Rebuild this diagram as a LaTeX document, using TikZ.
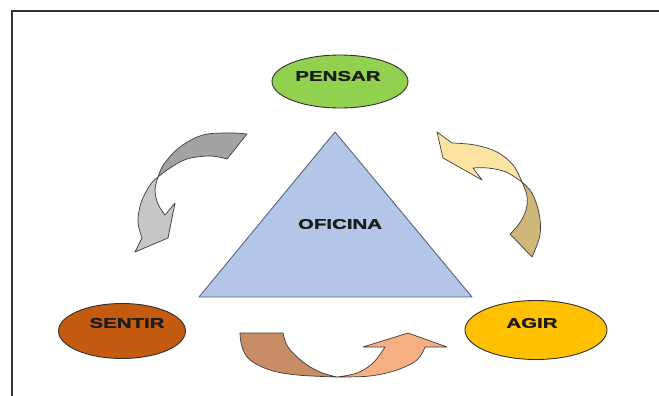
\documentclass[tikz,border=0pt]{standalone}
\usepackage{fontspec}
\setmainfont{Liberation Sans}
\newfontfamily\heavysans{Liberation Sans}[BoldFeatures={FakeBold=1.3}]
\usetikzlibrary{shapes.geometric}

\definecolor{frameline}{HTML}{333333}
\definecolor{pensarfill}{HTML}{92D050}
\definecolor{sentirfill}{HTML}{C55A11}
\definecolor{agirfill}{HTML}{FFC000}
\definecolor{trifill}{HTML}{B4C6E7}
\definecolor{triline}{HTML}{56637E}
\definecolor{greyback}{HTML}{A3A3A3}
\definecolor{greyfront}{HTML}{C6C6C6}
\definecolor{yellowfront}{HTML}{FDE3A0}
\definecolor{yellowback}{HTML}{CFB679}
\definecolor{orangeback}{HTML}{C98D66}
\definecolor{orangefront}{HTML}{F5AF82}
\definecolor{edge}{HTML}{3C3C3C}
\definecolor{label}{HTML}{1C1C1C}

\tikzset{
  oval/.style={ellipse, draw=edge!80!black, line width=0.9pt, inner sep=0pt},
  caption/.style={font=\heavysans\fontsize{14}{14}\selectfont\bfseries, text=label, inner sep=0pt},
  band/.style={draw=edge, line width=0.7pt, line join=round},
}
\newcommand{\wide}[1]{\scalebox{1.46}[1]{#1}}

\begin{document}
\begin{tikzpicture}[x=1pt, y=-1pt]
\useasboundingbox (0,0) rectangle (659,396);

% page frame (top and left edges)
\draw[frameline, line width=1.4pt] (12,396) -- (12,11) -- (659,11);

% central triangle
\coordinate (apex) at (335,132);
\coordinate (bl) at (199,297);
\coordinate (br) at (472,297);
\filldraw[fill=trifill, draw=triline, line width=0.9pt, line join=round] (apex) -- (br) -- (bl) -- cycle;
\node[caption] (oficina) at (340,224) {\wide{OFICINA}};

% three ovals
\node[oval, fill=pensarfill, minimum width=136pt, minimum height=53pt] (pensar) at (340,81.5) {};
\node[caption] (tpensar) at (338,76) {\wide{PENSAR}};
\node[oval, fill=sentirfill, minimum width=127pt, minimum height=55pt] (sentir) at (122,331) {};
\node[caption] (tsentir) at (127,323) {\wide{SENTIR}};
\node[oval, fill=agirfill, minimum width=142pt, minimum height=59pt] (agir) at (536,330) {};
\node[caption] (tagir) at (532,323) {\wide{AGIR}};

% left curved arrow (grey): back band, then front band with head
\filldraw[band, fill=greyback]
  plot[smooth, tension=0.6] coordinates {(247,134) (230,133) (203,135) (180,147) (164,164) (158,177)}
  -- plot[smooth, tension=0.6] coordinates {(158,177) (170,168) (187,159) (210,156) (227,159)}
  -- cycle;
\filldraw[band, fill=greyfront]
  plot[smooth, tension=0.6] coordinates {(158,177) (150,185) (141,203) (138,222) (142,238)}
  -- (135,252) -- (168,238) -- (175,203) -- (165,215)
  -- plot[smooth, tension=0.6] coordinates {(165,215) (158,204) (155,190) (158,177)}
  -- cycle;

% right curved arrow (yellow): back band, then front band with head
\filldraw[band, fill=yellowback]
  plot[smooth, tension=0.6] coordinates {(522,182) (532,193) (539,213) (540,235) (532,257)}
  -- (510,234)
  -- plot[smooth, tension=0.6] coordinates {(510,234) (519,224) (526,210) (527,196) (522,182)}
  -- cycle;
\filldraw[band, fill=yellowfront]
  (437,132) -- (452,143)
  -- plot[smooth, tension=0.6] coordinates {(452,143) (475,145) (497,152) (513,165) (522,182)}
  -- plot[smooth, tension=0.6] coordinates {(522,182) (506,172) (488,168) (473,168)}
  -- (482,180) -- (443,158) -- cycle;

% bottom curved arrow (orange): back band, then front band with head
\filldraw[band, fill=orangeback]
  (240,333) -- (283,333)
  -- plot[smooth, tension=0.6] coordinates {(283,333) (288,347) (303,362) (320,372) (337,377)}
  -- plot[smooth, tension=0.6] coordinates {(337,377) (297,375) (270,370) (250,360) (242,347) (240,333)}
  -- cycle;
\filldraw[band, fill=orangefront]
  plot[smooth, tension=0.6] coordinates {(337,377) (357,373) (373,363) (385,347)}
  -- (363,347) -- (408,333) -- (447,347) -- (425,347)
  -- plot[smooth, tension=0.6] coordinates {(425,347) (417,360) (397,370) (370,376) (337,377)}
  -- cycle;
\end{tikzpicture}
\end{document}
